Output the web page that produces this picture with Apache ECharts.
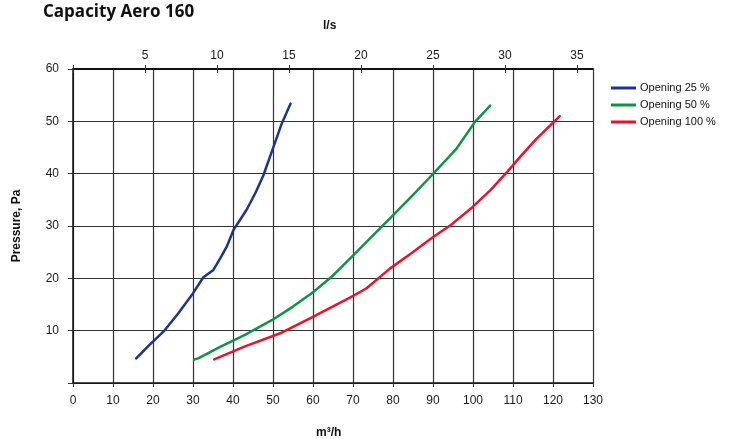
<!DOCTYPE html>
<html>
<head>
<meta charset="utf-8">
<script src="https://cdn.jsdelivr.net/npm/echarts@6/dist/echarts.min.js"></script>
<style>html,body{margin:0;padding:0;background:#fff}#c{width:731px;height:439px}</style>
</head>
<body>
<div id="c"></div>
<script>
// Flow in m3/h and pressure in Pa
const seriesNames = ['Opening 25 %', 'Opening 50 %', 'Opening 100 %'];
const q25 = [15.8, 19.0, 22.6, 26.2, 29.7, 32.6, 35.1, 36.8, 38.4, 40.1, 43.4, 45.6, 47.6, 49.7, 52.2, 54.4];
const p25 = [4.7, 7.2, 9.8, 13.2, 16.8, 20.2, 21.6, 23.8, 26.0, 29.2, 33.1, 36.3, 39.7, 44.2, 49.6, 53.4];
const q50 = [30.3, 31.3, 36.8, 43.0, 49.7, 55.0, 60.1, 64.8, 69.3, 74.2, 79.3, 84.6, 89.7, 95.9, 100.5, 104.3];
const p50 = [4.5, 4.7, 6.9, 9.2, 12.0, 14.6, 17.4, 20.4, 23.8, 27.6, 31.5, 35.6, 39.7, 44.8, 49.9, 53.0];
const q100 = [35.3, 43.0, 51.8, 60.1, 69.7, 73.4, 79.3, 84.6, 89.7, 94.8, 99.7, 104.3, 108.5, 112.0, 115.8, 121.7];
const p100 = [4.5, 7.0, 9.5, 12.7, 16.5, 18.1, 21.9, 24.8, 27.7, 30.4, 33.5, 36.8, 40.3, 43.4, 46.6, 51.0];
const xTicksM3h = { min: 0, max: 130, interval: 10 };
const yTicksPa = { min: 0, max: 60, interval: 10 };
const topTicksLs = { min: 0, interval: 5 };
const m3hPerLs = 3.6;

const colors = ['#1c3590', '#0e9443', '#e8132b'];
const pairs = (xs, ys) => xs.map((x, i) => [x, ys[i]]);
const seriesData = [pairs(q25, p25), pairs(q50, p50), pairs(q100, p100)];

const tickFont = { fontFamily: 'Liberation Sans, Arial, sans-serif', fontSize: 12, color: '#1a1a1a' };
const topMax = xTicksM3h.max / m3hPerLs;
const topFmt = v => (v > 0 && Math.abs(v / 5 - Math.round(v / 5)) < 1e-6) ? String(v) : '';

const chart = echarts.init(document.getElementById('c'), null, { renderer: 'canvas' });
chart.setOption({
  animation: false,
  backgroundColor: '#ffffff',
  title: [
    { text: 'Capacity Aero 160', left: 38, top: -1,
      textStyle: { fontFamily: 'Open Sans, sans-serif', fontWeight: 700, fontSize: 17, color: '#111' } },
    { text: 'l/s', left: 318, top: 15,
      textStyle: { fontFamily: 'Liberation Sans, Arial, sans-serif', fontWeight: 700, fontSize: 12, color: '#111' } },
    { text: 'm³/h', left: 311, top: 422,
      textStyle: { fontFamily: 'Liberation Sans, Arial, sans-serif', fontWeight: 700, fontSize: 12, color: '#111' } }
  ],
  legend: {
    orient: 'vertical', left: 606, top: 76, itemGap: 3,
    itemWidth: 25, itemHeight: 3, icon: 'rect',
    textStyle: { fontFamily: 'Liberation Sans, Arial, sans-serif', fontSize: 11, color: '#111', lineHeight: 14, padding: [0, 0, 0, -1] },
    data: seriesNames
  },
  grid: { left: 73, top: 69, width: 520, height: 314, containLabel: false },
  xAxis: [
    { type: 'value', position: 'bottom', min: xTicksM3h.min, max: xTicksM3h.max, interval: xTicksM3h.interval,
      axisLine: { show: true, lineStyle: { color: '#111', width: 1.5 } },
      axisTick: { show: true, length: 4, lineStyle: { color: '#333' } },
      axisLabel: Object.assign({ margin: 12 }, tickFont),
      splitLine: { show: true, lineStyle: { color: '#333', width: 1.2 } } },
    { type: 'value', position: 'top', min: topTicksLs.min, max: topMax, interval: topTicksLs.interval,
      axisLine: { show: true, onZero: false, lineStyle: { color: '#111', width: 2 } },
      axisTick: { show: true, length: 4, lineStyle: { color: '#333' } },
      axisLabel: Object.assign({ margin: 7, formatter: topFmt, showMaxLabel: false }, tickFont),
      splitLine: { show: false } },
    { type: 'value', position: 'top', min: topTicksLs.min, max: topMax, interval: topTicksLs.interval,
      axisLine: { show: false },
      axisTick: { show: true, inside: true, length: 4, lineStyle: { color: '#333' } },
      axisLabel: { show: false },
      splitLine: { show: false } }
  ],
  yAxis: {
    type: 'value', min: yTicksPa.min, max: yTicksPa.max, interval: yTicksPa.interval,
    name: 'Pressure, Pa', nameLocation: 'middle', nameRotate: 90, nameGap: 50,
    nameTextStyle: { fontFamily: 'Liberation Sans, Arial, sans-serif', fontWeight: 700, fontSize: 12, color: '#111' },
    axisLine: { show: true, lineStyle: { color: '#111', width: 1.5 } },
    axisTick: { show: true, length: 5, lineStyle: { color: '#333' } },
    axisLabel: Object.assign({ margin: 14, formatter: v => v === 0 ? '' : String(v) }, tickFont),
    splitLine: { show: true, lineStyle: { color: '#333', width: 1.2 } }
  },
  series: seriesNames.map((n, i) => ({
    name: n, type: 'line', xAxisIndex: 0, data: seriesData[i],
    showSymbol: false, smooth: false,
    lineStyle: { color: colors[i], width: 2.5, join: 'round', cap: 'round' }, itemStyle: { color: colors[i] }
  }))
});
</script>
</body>
</html>
